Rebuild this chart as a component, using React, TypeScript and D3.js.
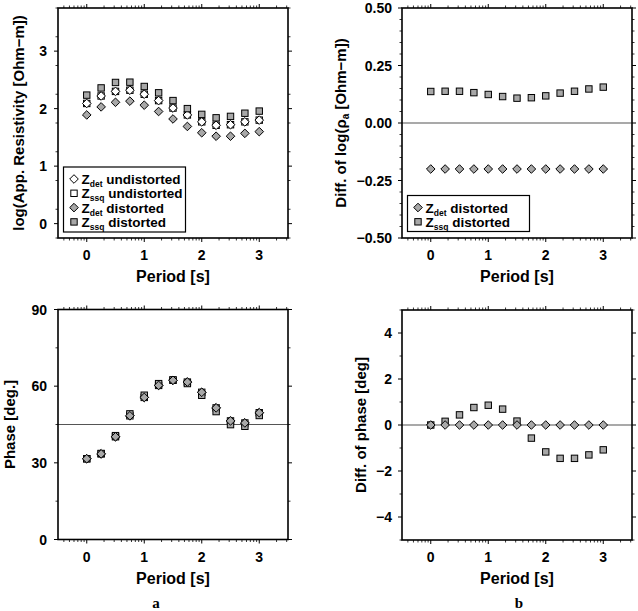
import React from "react";
import * as d3 from "d3";

const periods = [0, 0.25, 0.5, 0.75, 1, 1.25, 1.5, 1.75, 2, 2.25, 2.5, 2.75, 3];

// log apparent resistivity
const rhoDetUndist = [2.09, 2.22, 2.3, 2.32, 2.25, 2.14, 2.01, 1.89, 1.77, 1.71, 1.72, 1.77, 1.8];
const rhoSsqUndist = [2.09, 2.22, 2.3, 2.32, 2.25, 2.14, 2.01, 1.89, 1.77, 1.71, 1.72, 1.77, 1.8];
const rhoDetDist = [1.89, 2.03, 2.11, 2.13, 2.06, 1.95, 1.82, 1.69, 1.58, 1.52, 1.52, 1.57, 1.6];
const rhoSsqDist = [2.235, 2.36, 2.455, 2.46, 2.385, 2.275, 2.14, 2.0, 1.9, 1.84, 1.865, 1.92, 1.957];

// differences of log rho
const diffRhoDet = [-0.2, -0.2, -0.2, -0.2, -0.2, -0.2, -0.2, -0.2, -0.2, -0.2, -0.2, -0.2, -0.2];
const diffRhoSsq = [0.137, 0.138, 0.138, 0.132, 0.124, 0.115, 0.108, 0.11, 0.118, 0.13, 0.138, 0.148, 0.156];

// phase
const phaseDetUndist = [31.6, 33.5, 40.2, 48.4, 55.6, 60.3, 62.3, 61.6, 57.6, 51.5, 46.4, 45.6, 49.6];
const phaseSsqUndist = [31.6, 33.5, 40.2, 48.4, 55.6, 60.3, 62.3, 61.6, 57.6, 51.5, 46.4, 45.6, 49.6];
const phaseDetDist = [31.6, 33.5, 40.2, 48.4, 55.6, 60.3, 62.3, 61.6, 57.6, 51.5, 46.4, 45.6, 49.6];
const phaseSsqDist = [31.6, 33.66, 40.64, 49.16, 56.46, 60.99, 62.47, 61.03, 56.43, 50.05, 44.95, 44.3, 48.52];

// differences of phase
const diffPhaseDet = [0, 0, 0, 0, 0, 0, 0, 0, 0, 0, 0, 0, 0];
const diffPhaseSsq = [0, 0.16, 0.44, 0.76, 0.86, 0.69, 0.17, -0.57, -1.17, -1.45, -1.45, -1.3, -1.08];

const xTicks = [0, 1, 2, 3];
const yTicksRho = [0, 1, 2, 3];
const yTicksDiffRho = [-0.5, -0.25, 0, 0.25, 0.5];
const yTicksPhase = [0, 30, 60, 90];
const yTicksDiffPhase = [-4, -2, 0, 2, 4];

const GRAY = "#a8a8a8";
const FONT = "'Liberation Sans', Arial, Helvetica, sans-serif";
const MINUS = "\u2212";

type Series = { values: number[]; shape: "square" | "diamond"; fill: string };

function Marker({ x, y, shape, fill }: { x: number; y: number; shape: string; fill: string }) {
  if (shape === "square") {
    const s = 3.2;
    return <rect x={x - s} y={y - s} width={2 * s} height={2 * s} fill={fill} stroke="#000" strokeWidth={1} />;
  }
  const r = 4.3;
  return (
    <path d={`M${x},${y - r}L${x + r},${y}L${x},${y + r}L${x - r},${y}Z`} fill={fill} stroke="#000" strokeWidth={1} />
  );
}

function Panel(props: {
  left: number; right: number; top: number; bottom: number;
  yDomain: [number, number]; yTicks: number[]; yMinorStep: number; yFormat: (v: number) => string;
  series: Series[]; refLine?: number; yTitle: React.ReactNode; yTitleX: number;
  xTitleY: number; labelRightX: number;
}) {
  const { left, right, top, bottom, yDomain, yTicks, yMinorStep, yFormat, series, refLine, yTitle, yTitleX, xTitleY, labelRightX } = props;
  const x = d3.scaleLinear().domain([-0.5, 3.5]).range([left, right]);
  const y = d3.scaleLinear().domain(yDomain).range([bottom, top]);
  const minorX: number[] = [];
  for (let n = -1; n <= 3; n++) {
    for (let k = 2; k <= 9; k++) {
      const v = n + Math.log10(k);
      if (v > -0.5 && v < 3.5) minorX.push(v);
    }
  }
  const minorY = d3.range(yDomain[0], yDomain[1] + 1e-9, yMinorStep).filter(
    (v) => !yTicks.some((t) => Math.abs(t - v) < 1e-9)
  );
  const majorLen = 4;
  const minorLen = 2.5;
  const cx = (left + right) / 2;
  const cy = (top + bottom) / 2;
  return (
    <g>
      {refLine !== undefined && (
        <line x1={left} x2={right} y1={y(refLine)} y2={y(refLine)} stroke="#555" strokeWidth={1.2} />
      )}
      {series.map((s, si) =>
        s.values.map((v, i) => (
          <Marker key={`${si}-${i}`} x={x(periods[i])} y={y(v)} shape={s.shape} fill={s.fill} />
        ))
      )}
      <rect x={left} y={top} width={right - left} height={bottom - top} fill="none" stroke="#000" strokeWidth={1.6} />
      {minorX.map((v, i) => (
        <g key={`mx${i}`}>
          <line x1={x(v)} x2={x(v)} y1={bottom} y2={bottom + minorLen} stroke="#000" strokeWidth={0.8} />
          <line x1={x(v)} x2={x(v)} y1={top} y2={top - minorLen} stroke="#000" strokeWidth={0.8} />
        </g>
      ))}
      {xTicks.map((v) => (
        <g key={`x${v}`}>
          <line x1={x(v)} x2={x(v)} y1={bottom} y2={bottom + majorLen} stroke="#000" strokeWidth={1} />
          <line x1={x(v)} x2={x(v)} y1={top} y2={top - majorLen} stroke="#000" strokeWidth={1} />
          <text x={x(v)} y={bottom + 22} textAnchor="middle" fontSize={14} fontWeight="bold" fontFamily={FONT}>
            {v}
          </text>
        </g>
      ))}
      {minorY.map((v, i) => (
        <g key={`my${i}`}>
          <line x1={left} x2={left - minorLen} y1={y(v)} y2={y(v)} stroke="#000" strokeWidth={0.8} />
          <line x1={right} x2={right + minorLen} y1={y(v)} y2={y(v)} stroke="#000" strokeWidth={0.8} />
        </g>
      ))}
      {yTicks.map((v) => (
        <g key={`y${v}`}>
          <line x1={left} x2={left - majorLen} y1={y(v)} y2={y(v)} stroke="#000" strokeWidth={1} />
          <line x1={right} x2={right + majorLen} y1={y(v)} y2={y(v)} stroke="#000" strokeWidth={1} />
          <text x={labelRightX} y={y(v) + 5} textAnchor="end" fontSize={14} fontWeight="bold" fontFamily={FONT}>
            {yFormat(v)}
          </text>
        </g>
      ))}
      <text x={cx} y={xTitleY} textAnchor="middle" fontSize={16} fontWeight="bold" fontFamily={FONT}>
        Period [s]
      </text>
      <text
        transform={`translate(${yTitleX},${cy}) rotate(-90)`}
        textAnchor="middle"
        fontSize={15}
        fontWeight="bold"
        fontFamily={FONT}
      >
        {yTitle}
      </text>
    </g>
  );
}

function Legend({ x0, y0, w, h, items }: { x0: number; y0: number; w: number; h: number; items: { shape: string; fill: string; sub: string; label: string }[] }) {
  return (
    <g>
      <rect x={x0} y={y0} width={w} height={h} fill="#fff" stroke="#000" strokeWidth={1.2} />
      {items.map((it, i) => {
        const yy = y0 + 12 + i * 14.3;
        return (
          <g key={i}>
            <Marker x={x0 + 10.5} y={yy} shape={it.shape} fill={it.fill} />
            <text x={x0 + 18} y={yy + 5} fontSize={13.5} fontWeight="bold" fontFamily={FONT}>
              Z<tspan fontSize={8.5} dy={3}>{it.sub}</tspan><tspan dy={-3}>{" " + it.label}</tspan>
            </text>
          </g>
        );
      })}
    </g>
  );
}

export default function App() {
  const fmt0 = (v: number) => String(v);
  const fmtMinus = (v: number) => (v < 0 ? MINUS + Math.abs(v) : String(v));
  const fmt2 = (v: number) => (v < 0 ? MINUS + Math.abs(v).toFixed(2) : v.toFixed(2));
  return (
    <svg width={638} height={611} style={{ position: "absolute", left: 0, top: 0, background: "#fff" }}>
      <Panel
        left={58} right={288} top={8} bottom={238}
        yDomain={[-0.25, 3.75]} yTicks={yTicksRho} yMinorStep={0.5} yFormat={fmt0}
        series={[
          { values: rhoSsqUndist, shape: "square", fill: "#fff" },
          { values: rhoDetUndist, shape: "diamond", fill: "#fff" },
          { values: rhoSsqDist, shape: "square", fill: GRAY },
          { values: rhoDetDist, shape: "diamond", fill: GRAY },
        ]}
        yTitle={`log(App. Resistivity [Ohm${MINUS}m])`} yTitleX={24} xTitleY={282} labelRightX={47}
      />
      <Legend
        x0={63.5} y0={167} w={122} h={65}
        items={[
          { shape: "diamond", fill: "#fff", sub: "det", label: "undistorted" },
          { shape: "square", fill: "#fff", sub: "ssq", label: "undistorted" },
          { shape: "diamond", fill: GRAY, sub: "det", label: "distorted" },
          { shape: "square", fill: GRAY, sub: "ssq", label: "distorted" },
        ]}
      />
      <Panel
        left={402} right={632} top={8} bottom={238}
        yDomain={[-0.5, 0.5]} yTicks={yTicksDiffRho} yMinorStep={0.05} yFormat={fmt2}
        series={[
          { values: diffRhoSsq, shape: "square", fill: GRAY },
          { values: diffRhoDet, shape: "diamond", fill: GRAY },
        ]}
        refLine={0}
        yTitle={<>Diff. of log(ρ<tspan fontSize={10} dy={3}>a</tspan><tspan dy={-3}>{` [Ohm${MINUS}m])`}</tspan></>}
        yTitleX={346} xTitleY={282} labelRightX={392}
      />
      <Legend
        x0={407.5} y0={195.5} w={122} h={36}
        items={[
          { shape: "diamond", fill: GRAY, sub: "det", label: "distorted" },
          { shape: "square", fill: GRAY, sub: "ssq", label: "distorted" },
        ]}
      />
      <Panel
        left={58} right={288} top={309.5} bottom={539.5}
        yDomain={[0, 90]} yTicks={yTicksPhase} yMinorStep={15} yFormat={fmt0}
        series={[
          { values: phaseSsqUndist, shape: "square", fill: "#fff" },
          { values: phaseDetUndist, shape: "diamond", fill: "#fff" },
          { values: phaseSsqDist, shape: "square", fill: GRAY },
          { values: phaseDetDist, shape: "diamond", fill: GRAY },
        ]}
        refLine={45}
        yTitle="Phase [deg.]" yTitleX={15} xTitleY={584} labelRightX={47}
      />
      <Panel
        left={402} right={632} top={310} bottom={540}
        yDomain={[-5, 5]} yTicks={yTicksDiffPhase} yMinorStep={1} yFormat={fmtMinus}
        series={[
          { values: diffPhaseSsq, shape: "square", fill: GRAY },
          { values: diffPhaseDet, shape: "diamond", fill: GRAY },
        ]}
        refLine={0}
        yTitle="Diff. of phase [deg]" yTitleX={366} xTitleY={584} labelRightX={392}
      />
      <text x={156} y={608} textAnchor="middle" fontSize={15} fontWeight="bold" fontFamily="'Liberation Serif', 'Times New Roman', serif">a</text>
      <text x={519} y={608} textAnchor="middle" fontSize={15} fontWeight="bold" fontFamily="'Liberation Serif', 'Times New Roman', serif">b</text>
    </svg>
  );
}
